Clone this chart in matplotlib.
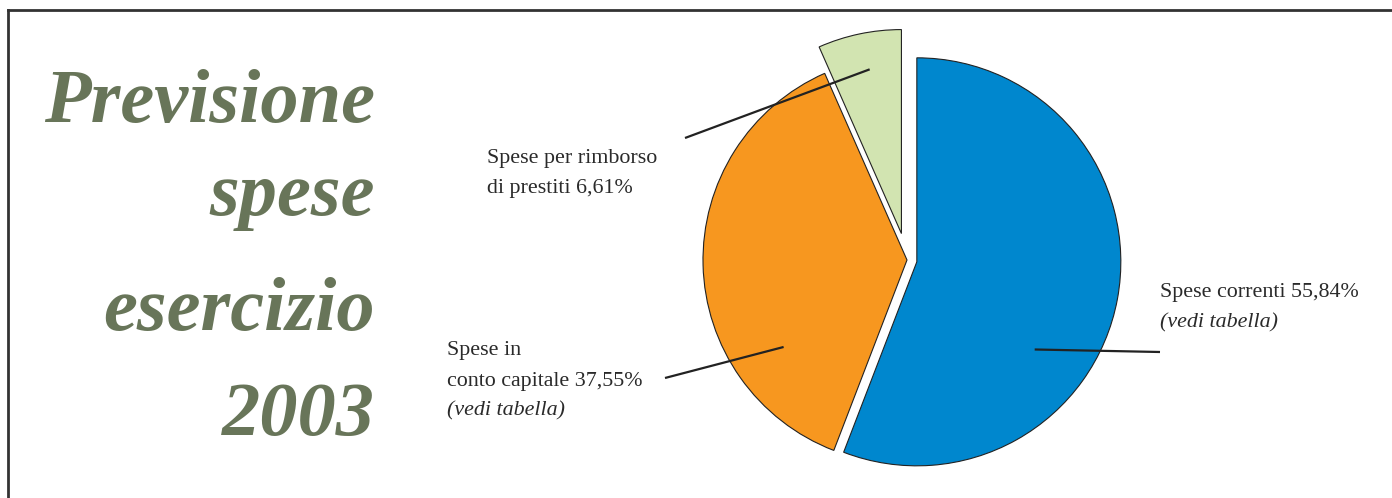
import numpy as np
import matplotlib.pyplot as plt
from matplotlib.lines import Line2D

# dati
labels = ['Spese correnti', 'Spese in conto capitale', 'Spese per rimborso di prestiti']
values = [55.84, 37.55, 6.61]
colors = ['#0087ce', '#f7971f', '#d2e4b1']
explode = [10, 0, 27]   # in pixel (unita' dati)

title_lines = ['Previsione', 'spese', 'esercizio', '2003']
title_color = '#687559'

W, H = 1392, 498
fig = plt.figure(figsize=(W / 100, H / 100), dpi=100)
ax = fig.add_axes([0, 0, 1, 1])

# cornice (solo lato sinistro e superiore)
fig.add_artist(Line2D([8 / W, 1], [1 - 10 / H, 1 - 10 / H], color='#333333', lw=2, transform=fig.transFigure))
fig.add_artist(Line2D([8 / W, 8 / W], [0, 1 - 10 / H], color='#333333', lw=2, transform=fig.transFigure))

# torta
R = 204
wedges, _ = ax.pie(values, colors=colors, explode=explode, startangle=90, counterclock=False,
                   center=(907, H - 260), radius=R,
                   wedgeprops=dict(edgecolor='#222222', linewidth=0.8))
ax.set_xlim(0, W)
ax.set_ylim(0, H)
ax.set_aspect('equal')
ax.axis('off')

# titolo
title_y = [122, 215, 330, 435]
for txt, y in zip(title_lines, title_y):
    ax.text(375, H - y, txt, ha='right', va='baseline', fontsize=55, color=title_color,
            family='Liberation Serif', fontweight='bold', fontstyle='italic')

# linee di richiamo: (fraz. angolo, fraz. raggio) -> punto testo
anchors = [(0.37, 0.72, (1160, H - 352)),
           (0.75, 0.74, (665, H - 378)),
           (0.46, 0.82, (685, H - 138))]
for w, (fa, fr, end) in zip(wedges, anchors):
    th = np.deg2rad(w.theta1 + fa * (w.theta2 - w.theta1))
    cx, cy = w.center
    p = (cx + fr * w.r * np.cos(th), cy + fr * w.r * np.sin(th))
    ax.plot([p[0], end[0]], [p[1], end[1]], color='#222222', lw=1.6, solid_capstyle='butt')

fs = 15.8
tc = '#2a2a2a'
ax.text(1160, H - 292, 'Spese correnti 55,84%', fontsize=fs, color=tc, family='Liberation Serif', va='center')
ax.text(1160, H - 323, '(vedi tabella)', fontsize=fs, color=tc, family='Liberation Serif', style='italic', va='center')

ax.text(487, H - 158, 'Spese per rimborso', fontsize=fs, color=tc, family='Liberation Serif', va='center')
ax.text(487, H - 188, 'di prestiti 6,61%', fontsize=fs, color=tc, family='Liberation Serif', va='center')

ax.text(447, H - 350, 'Spese in', fontsize=fs, color=tc, family='Liberation Serif', va='center')
ax.text(447, H - 381, 'conto capitale 37,55%', fontsize=fs, color=tc, family='Liberation Serif', va='center')
ax.text(447, H - 411, '(vedi tabella)', fontsize=fs, color=tc, family='Liberation Serif', style='italic', va='center')

fig.savefig('out.png', dpi=100)
